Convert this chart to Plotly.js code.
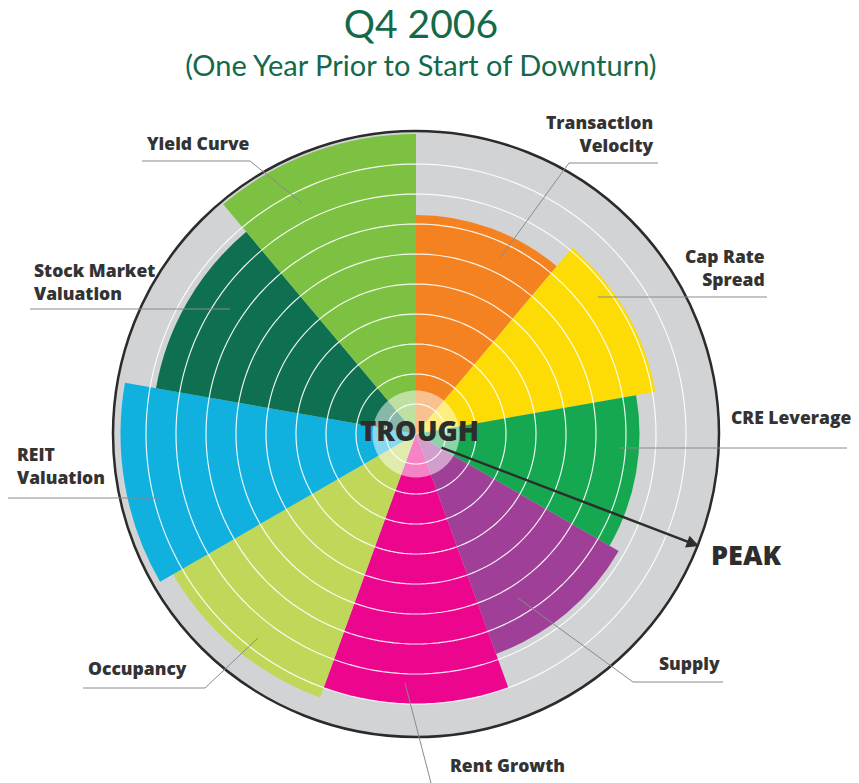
<!DOCTYPE html>
<html>
<head>
<meta charset="utf-8">
<script src="https://cdn.plot.ly/plotly-3.0.1.min.js"></script>
<style>html,body{margin:0;padding:0;background:#fff;}#chart{width:859px;height:783px;}</style>
</head>
<body>
<div id="chart"></div>
<script>
// ---- data ----
const categories = ["Transaction Velocity", "Cap Rate Spread", "CRE Leverage", "Supply", "Rent Growth",
                    "Occupancy", "REIT Valuation", "Stock Market Valuation", "Yield Curve"];
const values = [7.3, 8.1, 7.45, 7.8, 9.0, 9.35, 9.85, 8.8, 10.0];
const colors = ["#f58220", "#fcdc04", "#16a851", "#a03f97", "#ec068d",
                "#c0d85a", "#10b0df", "#0e7050", "#7dc142"];
const thetaCenters = [20, 60, 100, 140, 180, 220, 260, 300, 340];
const gridLevels = [1, 2, 3, 4, 5, 6, 7, 8, 9];
const labelTexts = ["Transaction<br>Velocity", "Cap Rate<br>Spread", "CRE Leverage", "Supply", "Rent Growth",
                    "Occupancy", "REIT<br>Valuation", "Stock Market<br>Valuation", "Yield Curve"];

const W = 859, H = 783;
const px = x => x / W;
const py = y => 1 - y / H;

// ---- traces ----
const traces = [];
traces.push({
  type: 'barpolar',
  r: values,
  theta: thetaCenters,
  width: thetaCenters.map(() => 40),
  text: categories,
  marker: {color: colors, line: {width: 0}},
  hoverinfo: 'text+r',
  showlegend: false
});
const circTheta = [];
for (let t = 0; t <= 360; t += 2) circTheta.push(t);
gridLevels.forEach(lv => {
  traces.push({
    type: 'scatterpolar', mode: 'lines',
    r: circTheta.map(() => lv), theta: circTheta,
    line: {color: 'rgba(255,255,255,0.9)', width: 1.2},
    hoverinfo: 'skip', showlegend: false
  });
});
traces.push({
  type: 'scatterpolar', mode: 'lines', fill: 'toself',
  r: circTheta.map(() => 1.45), theta: circTheta,
  fillcolor: 'rgba(255,255,255,0.5)', line: {width: 0, color: 'rgba(0,0,0,0)'},
  hoverinfo: 'skip', showlegend: false
});

// ---- leader lines ----
const leaders = [
  [[658,163],[569,163],[500,258]],
  [[767,297],[598,297]],
  [[847,448],[619,448]],
  [[723,682],[633,682],[518,598]],
  [[405,683],[431,783]],
  [[83,688],[205,688],[258,638]],
  [[8,498],[160,498]],
  [[30,309],[230,309]],
  [[142,161],[250,161],[302,203]]
];
const shapes = leaders.map(pts => ({
  type: 'path', xref: 'paper', yref: 'paper',
  path: pts.map((p, i) => (i ? 'L' : 'M') + px(p[0]) + ',' + py(p[1])).join(' '),
  line: {color: '#8a8a8a', width: 1}
}));

// ---- labels ----
const labelFont = {family: '"Open Sans", sans-serif', size: 17.5, color: '#333333', weight: 800};
const labelPos = [
  [656,133,'right'], [767,267,'right'], [729,417,'left'], [657,663,'left'], [448,765,'left'],
  [86,668,'left'], [15,466,'left'], [32,281,'left'], [145,143,'left']
];
const annotations = labelTexts.map((t, i) => ({
  text: t, xref: 'paper', yref: 'paper',
  x: px(labelPos[i][0]), y: py(labelPos[i][1]),
  xanchor: labelPos[i][2], yanchor: 'middle', align: labelPos[i][2],
  showarrow: false, font: labelFont
}));
annotations.push({
  text: 'TROUGH', xref: 'paper', yref: 'paper', x: px(419), y: py(430),
  xanchor: 'center', yanchor: 'middle', showarrow: false,
  font: {family: '"Open Sans", sans-serif', size: 27.5, color: '#2d2d2d', weight: 800}
});
annotations.push({
  text: 'PEAK', xref: 'paper', yref: 'paper', x: px(709), y: py(554),
  xanchor: 'left', yanchor: 'middle', showarrow: false,
  font: {family: '"Open Sans", sans-serif', size: 27, color: '#2d2d2d', weight: 800}
});
annotations.push({
  text: '', xref: 'paper', yref: 'paper', x: px(699), y: py(546),
  ax: 440 - 699, ay: 447 - 546, showarrow: true,
  arrowhead: 2, arrowsize: 1, arrowwidth: 2.5, arrowcolor: '#2d2d2d'
});

const layout = {
  width: W, height: H,
  margin: {l: 0, r: 0, t: 0, b: 0},
  paper_bgcolor: '#ffffff',
  showlegend: false,
  title: {
    text: '<span style="font-size:39px">Q4 2006</span><br>(One Year Prior to Start of Downturn)',
    font: {family: 'Lato, sans-serif', size: 29, color: '#13694a'},
    x: 0.49, xanchor: 'center', y: 1 - 38 / H, yanchor: 'middle', yref: 'container'
  },
  polar: {
    domain: {x: [113 / W, 719 / W], y: [1 - 737 / H, 1 - 131 / H]},
    bgcolor: '#d2d3d5',
    radialaxis: {range: [0, 10.1], showgrid: false, showline: false, showticklabels: false, ticks: ''},
    angularaxis: {rotation: 90, direction: 'clockwise', showgrid: false, showticklabels: false, ticks: '',
                  showline: true, linecolor: '#2b2b2b', linewidth: 2.5}
  },
  shapes: shapes,
  annotations: annotations
};

Plotly.newPlot('chart', traces, layout, {displayModeBar: false, staticPlot: true});
</script>
</body>
</html>
